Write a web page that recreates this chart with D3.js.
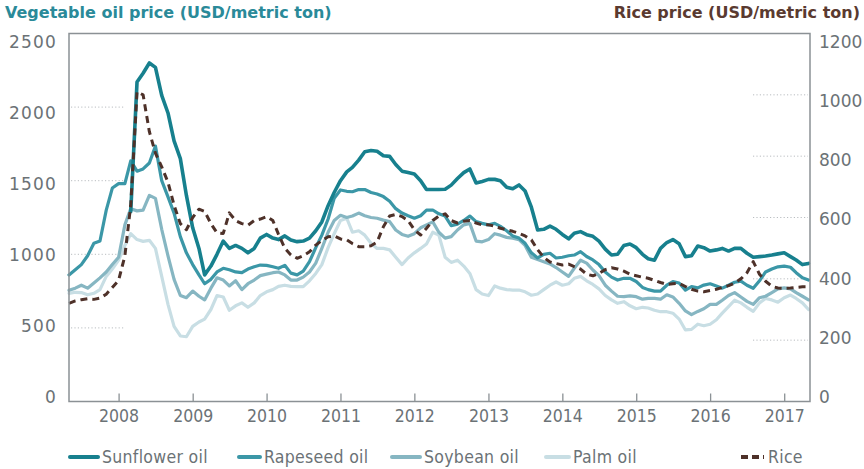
<!DOCTYPE html>
<html>
<head>
<meta charset="utf-8">
<script src="https://cdn.jsdelivr.net/npm/d3@7"></script>
<style>
  html, body { margin: 0; padding: 0; background: #ffffff; }
  svg { display: block; }
</style>
</head>
<body>
<svg id="chart" width="864" height="469"></svg>
<script>
// ---------------- DATA (monthly, May 2007 – May 2017) ----------------
const startMonth = [2007, 4];   // year, month index (May 2007)
const yearTicks = [2008, 2009, 2010, 2011, 2012, 2013, 2014, 2015, 2016, 2017];
const leftTicks = [0, 500, 1000, 1500, 2000, 2500];
const rightTicks = [0, 200, 400, 600, 800, 1000, 1200];
const leftGrid = [500, 1000, 1500, 2000];
const rightGrid = [200, 400, 600, 800, 1000];

const sunflower = [null, null, null, null, null, null, null, null, null, null,
  1290, 2170, 2230, 2300, 2270, 2080, 1960, 1770, 1650, 1400,
  1180, 1040, 860, 920, 1000, 1090, 1040, 1060, 1040, 1010,
  1040, 1110, 1135, 1110, 1100, 1125, 1097, 1086, 1090, 1110,
  1160, 1220, 1330, 1420, 1500, 1560, 1590, 1640, 1697, 1705,
  1700, 1670, 1665, 1610, 1565, 1555, 1545, 1500, 1440, 1440,
  1440, 1442, 1470, 1515, 1555, 1580, 1485, 1495, 1509, 1509,
  1500, 1455, 1445, 1471, 1430, 1320, 1165, 1170, 1192, 1170,
  1135, 1105, 1143, 1154, 1133, 1122, 1090, 1035, 995, 1000,
  1060, 1070, 1045, 1000, 970, 960, 1040, 1080, 1100, 1072,
  984, 990, 1056, 1045, 1022, 1030, 1040, 1022, 1041, 1040,
  1007, 980, 984, 988, 995, 1003, 1010, 984, 961, 930,
  938];

const rapeseed = [860, 895, 930, 990, 1075, 1090, 1300, 1450, 1480, 1480,
  1635, 1565, 1580, 1620, 1735, 1500, 1390, 1280, 1120, 1010,
  930, 860, 800, 830, 880, 905, 895, 880, 875, 900,
  915, 927, 925, 915, 905, 925, 872, 860, 885, 950,
  1045, 1130, 1240, 1380, 1437, 1428, 1425, 1440, 1440, 1420,
  1410, 1392, 1360, 1310, 1280, 1262, 1245, 1262, 1300, 1301,
  1275, 1260, 1195, 1205, 1230, 1260, 1222, 1210, 1200, 1210,
  1190, 1160, 1125, 1110, 1075, 1010, 975, 1000, 1007, 975,
  980, 990, 995, 1018, 985, 962, 930, 880, 845, 825,
  837, 837, 815, 775, 760, 750, 750, 790, 814, 805,
  757, 780, 772, 791, 800, 785, 770, 790, 810, 818,
  790, 769, 820, 880, 900, 915, 920, 912, 875, 840,
  825];

const soybean = [755, 770, 790, 770, 805, 840, 880, 930, 980, 1200,
  1310, 1295, 1300, 1400, 1380, 1170, 990, 830, 720, 705,
  750, 715, 690, 770, 840, 825, 785, 820, 760, 800,
  825, 855, 865, 875, 880, 860, 825, 825, 845, 880,
  940, 1040, 1150, 1230, 1265, 1250, 1260, 1280, 1262, 1250,
  1245, 1232, 1222, 1165, 1135, 1122, 1140, 1180, 1200, 1220,
  1150, 1110, 1120, 1165, 1200, 1210, 1090, 1085, 1100, 1140,
  1130, 1115, 1110, 1100, 1060, 980, 965, 950, 935, 910,
  880, 850, 905, 960, 940, 893, 855, 790, 750, 715,
  712, 718, 712, 695, 700, 700, 695, 725, 710, 667,
  615, 590, 612, 630, 660, 660, 688, 720, 740, 710,
  680, 660, 705, 715, 740, 765, 772, 765, 740, 715,
  690];

const palm = [735, 742, 740, 725, 735, 760, 850, 900, 960, 1060,
  1140, 1100, 1088, 1095, 1040, 850, 660, 510, 445, 440,
  510, 540, 560, 625, 720, 710, 620, 650, 670, 640,
  670, 720, 745, 760, 782, 790, 782, 780, 780, 820,
  870, 930, 1045, 1140, 1230, 1245, 1150, 1160, 1130, 1075,
  1040, 1040, 1030, 980, 930, 975, 1010, 1040, 1070, 1150,
  1130, 980, 945, 960, 920, 870, 760, 730, 720, 785,
  770, 760, 757, 757, 745, 722, 730, 760, 790, 812,
  790, 800, 837, 850, 820, 795, 765, 720, 690, 667,
  678, 650, 630, 640, 635, 620, 610, 610, 600, 560,
  486, 490, 525, 515, 525, 555, 600, 644, 688, 670,
  640, 612, 670, 700, 690, 675, 705, 723, 700, 670,
  625];

const rice = [320, 328, 332, 335, 333, 337, 350, 372, 395, 475,
  640, 1010, 1000, 880, 810, 765, 715, 640, 580, 560,
  600, 627, 620, 580, 550, 548, 615, 590, 580, 575,
  590, 595, 603, 590, 545, 500, 478, 467, 475, 488,
  510, 525, 537, 540, 530, 527, 515, 505, 505, 508,
  520, 570, 605, 610, 603, 590, 560, 543, 565, 590,
  605, 612, 590, 582, 588, 590, 582, 576, 576, 572,
  565, 560, 555, 548, 540, 527, 495, 470, 455, 450,
  445, 448, 440, 432, 415, 410, 418, 430, 436, 432,
  425, 415, 410, 405, 402, 395, 388, 382, 384, 385,
  375, 366, 360, 358, 362, 366, 372, 378, 386, 400,
  420, 456, 415, 392, 376, 370, 369, 370, 372, 374,
  374];

const seriesNames = ["Sunflower oil", "Rapeseed oil", "Soybean oil", "Palm oil", "Rice"];

// ---------------- STYLE ----------------
const colors = {
  "Sunflower oil": "#17808e",
  "Rapeseed oil": "#3b97a7",
  "Soybean oil": "#86b6c2",
  "Palm oil": "#c8dee4",
  "Rice": "#4e3129"
};
const axisColor = "#8b9195";
const labelColor = "#6b7276";
const narrowFont = "'DejaVu Sans Condensed', 'DejaVu Sans', sans-serif";

const svg = d3.select("#chart");
const plot = { left: 69, right: 810, top: 33.5, bottom: 401.5 };

const dates = rapeseed.map((_, i) => new Date(startMonth[0], startMonth[1] + i, 1));

const x = d3.scaleTime()
  .domain([dates[0], dates[dates.length - 1]])
  .range([plot.left, 808.5]);
const yL = d3.scaleLinear().domain([0, 2500]).range([plot.bottom, plot.top]);
const yR = d3.scaleLinear().domain([0, 1200]).range([plot.bottom, plot.top]);
// label placement scales (labels sit slightly inside the frame)
const yLlab = d3.scaleLinear().domain([0, 2500]).range([397, 42]);
const yRlab = d3.scaleLinear().domain([0, 1200]).range([397, 42]);

// ---------------- GRID ----------------
svg.append("g").selectAll("line").data(leftGrid).join("line")
  .attr("x1", 71).attr("x2", 124)
  .attr("y1", d => yL(d)).attr("y2", d => yL(d))
  .attr("stroke", "#b9bdc0").attr("stroke-width", 1)
  .attr("stroke-dasharray", "1.2,2.2");
svg.append("g").selectAll("line").data(rightGrid).join("line")
  .attr("x1", 753).attr("x2", 808)
  .attr("y1", d => yR(d)).attr("y2", d => yR(d))
  .attr("stroke", "#b9bdc0").attr("stroke-width", 1)
  .attr("stroke-dasharray", "1.2,2.2");

// ---------------- LINES ----------------
function drawLine(values, scale, color, width, dash) {
  const line = d3.line()
    .defined(d => d[1] != null)
    .x(d => x(d[0]))
    .y(d => scale(d[1]))
    .curve(d3.curveLinear);
  svg.append("path")
    .datum(values.map((v, i) => [dates[i], v]))
    .attr("fill", "none")
    .attr("stroke", color)
    .attr("stroke-width", width)
    .attr("stroke-linejoin", "round")
    .attr("stroke-linecap", dash ? "butt" : "round")
    .attr("stroke-dasharray", dash || null)
    .attr("d", line);
}
drawLine(palm, yL, colors["Palm oil"], 3.2);
drawLine(soybean, yL, colors["Soybean oil"], 3.2);
drawLine(rapeseed, yL, colors["Rapeseed oil"], 3.2);
drawLine(sunflower, yL, colors["Sunflower oil"], 3.6);
drawLine(rice, yR, colors["Rice"], 3, "7,5");

// ---------------- FRAME & AXES ----------------
svg.append("rect")
  .attr("x", plot.left).attr("y", plot.top)
  .attr("width", plot.right - plot.left).attr("height", plot.bottom - plot.top)
  .attr("fill", "none").attr("stroke", axisColor).attr("stroke-width", 1.5);

const xAxis = d3.axisBottom(x)
  .tickValues(yearTicks.map(yr => new Date(yr, 0, 1)))
  .tickFormat(d3.timeFormat("%Y"))
  .tickSizeInner(-8).tickSizeOuter(0).tickPadding(6);
const gx = svg.append("g").attr("transform", `translate(0,${plot.bottom})`).call(xAxis);
gx.select(".domain").remove();
gx.selectAll(".tick line").attr("stroke", axisColor).attr("stroke-width", 1.3);
gx.selectAll(".tick text")
  .attr("fill", labelColor)
  .style("font-family", narrowFont)
  .style("font-size", "17.5px")
  .attr("dy", "0.85em");

const gl = svg.append("g").attr("transform", `translate(57,0)`)
  .call(d3.axisLeft(yLlab).tickValues(leftTicks).tickFormat(d3.format("d")).tickSize(0).tickPadding(0));
gl.select(".domain").remove();
gl.selectAll(".tick text")
  .attr("fill", labelColor)
  .style("font-family", "'DejaVu Sans', sans-serif")
  .style("font-size", "17px")
  .style("letter-spacing", "1.2px");

const gr = svg.append("g").attr("transform", `translate(819,0)`)
  .call(d3.axisRight(yRlab).tickValues(rightTicks).tickFormat(d3.format("d")).tickSize(0).tickPadding(0));
gr.select(".domain").remove();
gr.selectAll(".tick text")
  .attr("fill", labelColor)
  .style("font-family", "'DejaVu Sans', sans-serif")
  .style("font-size", "17px");

// ---------------- TITLES ----------------
svg.append("text")
  .attr("x", 5).attr("y", 18)
  .attr("fill", "#2a8a99")
  .style("font-family", "'DejaVu Sans', sans-serif")
  .style("font-weight", "bold")
  .style("font-size", "16px")
  .text("Vegetable oil price (USD/metric ton)");
svg.append("text")
  .attr("x", 860).attr("y", 18)
  .attr("text-anchor", "end")
  .attr("fill", "#5a3a30")
  .style("font-family", "'DejaVu Sans', sans-serif")
  .style("font-weight", "bold")
  .style("font-size", "16px")
  .text("Rice price (USD/metric ton)");

// ---------------- LEGEND ----------------
const legendItems = [
  { name: "Sunflower oil", x: 70, w: 28 },
  { name: "Rapeseed oil", x: 239, w: 21 },
  { name: "Soybean oil", x: 392, w: 28 },
  { name: "Palm oil", x: 546, w: 23 },
  { name: "Rice", x: 741, w: 23, dash: "7,4" }
];
const lg = svg.append("g");
legendItems.forEach(it => {
  lg.append("line")
    .attr("x1", it.x).attr("x2", it.x + it.w)
    .attr("y1", 457).attr("y2", 457)
    .attr("stroke", colors[it.name]).attr("stroke-width", 4)
    .attr("stroke-linecap", it.dash ? "butt" : "round")
    .attr("stroke-dasharray", it.dash || null);
  lg.append("text")
    .attr("x", it.x + it.w + 4).attr("y", 457).attr("dy", "0.35em")
    .attr("fill", labelColor)
    .style("font-family", narrowFont)
    .style("font-size", "17.5px")
    .style("letter-spacing", "0.3px")
    .text(it.name);
});
</script>
</body>
</html>
